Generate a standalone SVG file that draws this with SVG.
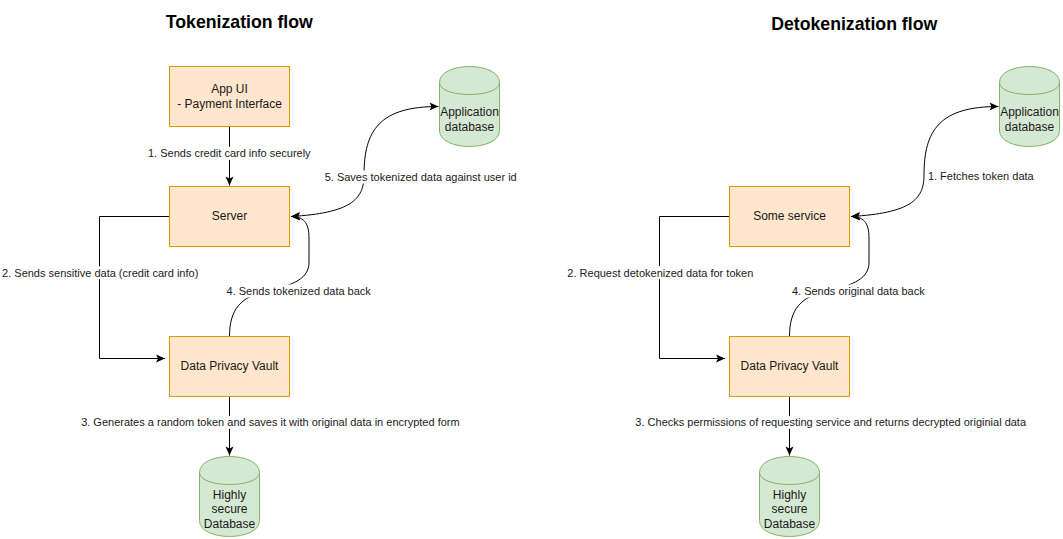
<svg xmlns="http://www.w3.org/2000/svg" xmlns:xlink="http://www.w3.org/1999/xlink" width="1063" height="539" viewBox="0 0 1063 539">
<style>
.box{fill:#ffe6cc;stroke:#d79b00;stroke-width:1}
.db{fill:#d5e8d4;stroke:#82b366;stroke-width:1}
.t{font-family:"Liberation Sans",Arial,Helvetica,sans-serif;font-size:12px;fill:#1a1a1a;text-anchor:middle}
.e{font-size:11px}
.title{font-weight:bold;font-size:17.7px;fill:#000}
.edge{fill:none;stroke:#000;stroke-width:1}
.bg{fill:#fff}
</style>
<defs>
<marker id="arr" viewBox="-10 -5 12 10" refX="0" refY="0" markerWidth="12" markerHeight="10" markerUnits="userSpaceOnUse" orient="auto-start-reverse">
<path d="M-9,-4 L0,0 L-9,4 L-7,0 Z" fill="#000"/>
</marker>
<g id="cyl">
<path d="M0,16 C0,-5.33 60,-5.33 60,16 L60,64 C60,85.33 0,85.33 0,64 Z"/>
<path d="M0,16 C0,32 60,32 60,16" fill="none"/>
</g>
</defs>
<rect width="1063" height="539" fill="#fff"/>

<g id="titles">
<text class="t title" x="239.3" y="27.7">Tokenization flow</text>
<text class="t title" x="854.2" y="29.7">Detokenization flow</text>
</g>

<g id="connectors">
<!-- left flow -->
<path class="edge" d="M229.5,126.5 V185.5" marker-end="url(#arr)"/>
<path class="edge" d="M169.5,216.5 H99.5 V358.5 H165" marker-end="url(#arr)"/>
<path class="edge" d="M229.5,396.5 V455.5" marker-end="url(#arr)"/>
<path class="edge" d="M229.5,336.5 C229.5,310 240,296 270,290 C300,284 309,275 309,262 L309,238 C309,222 303,216.5 291,216.5" marker-end="url(#arr)"/>
<path class="edge" d="M291,216.5 C350,213 364,200 364,175 C364,130 380,106.5 438.5,106.5" marker-start="url(#arr)" marker-end="url(#arr)"/>
<!-- right flow -->
<path class="edge" d="M729.5,216.5 H659.5 V358.5 H725" marker-end="url(#arr)"/>
<path class="edge" d="M789.5,396.5 V455.5" marker-end="url(#arr)"/>
<path class="edge" d="M789.5,336.5 C789.5,310 800,296 830,290 C860,284 869,275 869,262 L869,238 C869,222 863,216.5 851,216.5" marker-end="url(#arr)"/>
<path class="edge" d="M851,216.5 C910,213 924,200 924,175 C924,130 940,106.5 998.5,106.5" marker-start="url(#arr)" marker-end="url(#arr)"/>

<!-- labels left -->
<rect class="bg" x="148" y="146.8" width="163" height="13"/>
<text class="t e" x="229.3" y="157">1. Sends credit card info securely</text>
<rect class="bg" x="2" y="266.2" width="197" height="13"/>
<text class="t e" x="100.2" y="276.5">2. Sends sensitive data (credit card info)</text>
<rect class="bg" x="81" y="415.8" width="379" height="13"/>
<text class="t e" x="270.4" y="426">3. Generates a random token and saves it with original data in encrypted form</text>
<rect class="bg" x="226" y="284.5" width="146" height="13"/>
<text class="t e" x="298.7" y="295">4. Sends tokenized data back</text>
<rect class="bg" x="323" y="170.5" width="195" height="13"/>
<text class="t e" x="420.7" y="180.8">5. Saves tokenized data against user id</text>
<!-- labels right -->
<rect class="bg" x="927" y="170" width="107" height="13"/>
<text class="t e" x="980.8" y="180.3">1. Fetches token data</text>
<rect class="bg" x="567" y="266.2" width="187" height="13"/>
<text class="t e" x="660.3" y="276.5">2. Request detokenized data for token</text>
<rect class="bg" x="635" y="415.8" width="392" height="13"/>
<text class="t e" x="830.7" y="426">3. Checks permissions of requesting service and returns decrypted originial data</text>
<rect class="bg" x="791" y="284.5" width="134" height="13"/>
<text class="t e" x="858.3" y="295">4. Sends original data back</text>
</g>

<g id="app-ui">
<rect class="box" x="169.5" y="66.5" width="120" height="60"/>
<text class="t" x="229.5" y="93.3">App UI</text>
<text class="t" x="229.5" y="107.8">- Payment Interface</text>
</g>
<g id="server">
<rect class="box" x="169.5" y="186.5" width="120" height="60"/>
<text class="t" x="229.5" y="220">Server</text>
</g>
<g id="vault-left">
<rect class="box" x="169.5" y="336.5" width="120" height="60"/>
<text class="t" x="229.5" y="370">Data Privacy Vault</text>
</g>
<g id="appdb-left">
<use xlink:href="#cyl" href="#cyl" x="439.5" y="66.5" class="db"/>
<text class="t" x="469.5" y="116">Application</text>
<text class="t" x="469.5" y="130.5">database</text>
</g>
<g id="securedb-left">
<use xlink:href="#cyl" href="#cyl" x="199.5" y="456.5" class="db"/>
<text class="t" x="229.5" y="499">Highly</text>
<text class="t" x="229.5" y="513.2">secure</text>
<text class="t" x="229.5" y="527.5">Database</text>
</g>

<g id="some-service">
<rect class="box" x="729.5" y="186.5" width="120" height="60"/>
<text class="t" x="789.5" y="220">Some service</text>
</g>
<g id="vault-right">
<rect class="box" x="729.5" y="336.5" width="120" height="60"/>
<text class="t" x="789.5" y="370">Data Privacy Vault</text>
</g>
<g id="appdb-right">
<use xlink:href="#cyl" href="#cyl" x="999.5" y="66.5" class="db"/>
<text class="t" x="1029.5" y="116">Application</text>
<text class="t" x="1029.5" y="130.5">database</text>
</g>
<g id="securedb-right">
<use xlink:href="#cyl" href="#cyl" x="759.5" y="456.5" class="db"/>
<text class="t" x="789.5" y="499">Highly</text>
<text class="t" x="789.5" y="513.2">secure</text>
<text class="t" x="789.5" y="527.5">Database</text>
</g>
</svg>
